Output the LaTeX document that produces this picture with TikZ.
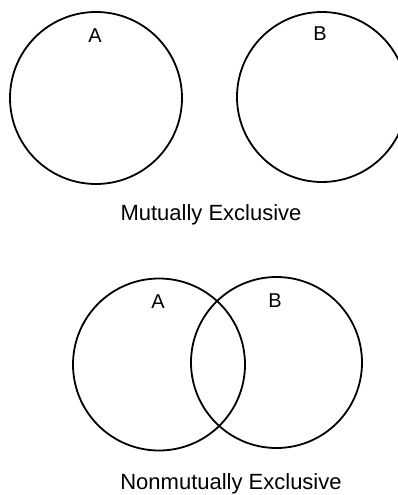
\documentclass[tikz,border=0pt]{standalone}
\usepackage{fontspec}
\setmainfont{Liberation Sans}

\begin{document}
\begin{tikzpicture}[x=1pt, y=-1pt,
  setcircle/.style={draw, circle, line width=1.8pt, inner sep=0pt},
  setlabel/.style={anchor=base, inner sep=0pt, font=\fontsize{20}{20}\selectfont},
  caption/.style={anchor=base, inner sep=0pt, font=\fontsize{22}{22}\selectfont}]
\useasboundingbox (0,0) rectangle (398,495);
\begin{scope}
\clip (0,0) rectangle (398,495);
% mutually exclusive
\node[setcircle, minimum size=172pt] (topA) at (96, 98) {};
\node[setcircle, minimum size=170pt] (topB) at (322, 97) {};
\node[setlabel] (labelTopA) at (95, 43) {A};
\node[setlabel] (labelTopB) at (320, 41) {B};
\node[caption] (mutual) at (211, 220) {Mutually Exclusive};
% nonmutually exclusive
\node[setcircle, minimum size=172pt] (botA) at (159, 364.5) {};
\node[setcircle, minimum size=171pt] (botB) at (276.5, 362.5) {};
\node[setlabel] (labelBotA) at (158, 308) {A};
\node[setlabel] (labelBotB) at (275, 307) {B};
\node[caption] (nonmutual) at (231, 489.5) {Nonmutually Exclusive};
\end{scope}
\end{tikzpicture}
\end{document}
